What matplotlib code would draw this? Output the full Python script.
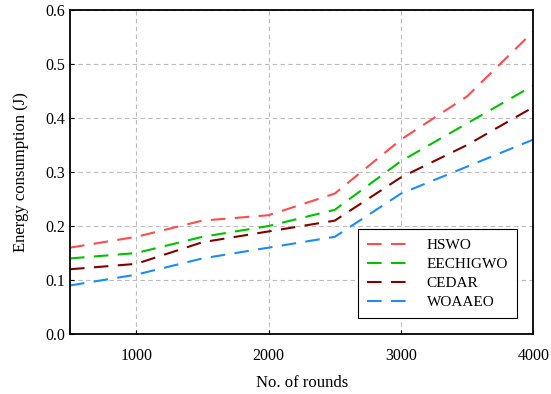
import numpy as np
import matplotlib
matplotlib.use('Agg')
import matplotlib.pyplot as plt

plt.rcParams['font.family'] = ['Liberation Serif', 'DejaVu Serif']

# Datos
rounds = [500, 1000, 1500, 2000, 2500, 3000, 3500, 4000]
hswo = [0.16, 0.18, 0.21, 0.22, 0.26, 0.36, 0.44, 0.56]
eechigwo = [0.14, 0.15, 0.18, 0.20, 0.23, 0.32, 0.39, 0.46]
cedar = [0.12, 0.13, 0.17, 0.19, 0.21, 0.29, 0.35, 0.42]
woaaeo = [0.09, 0.11, 0.14, 0.16, 0.18, 0.26, 0.31, 0.36]

labels = ['HSWO', 'EECHIGWO', 'CEDAR', 'WOAAEO']
colors = ['#ff4d4d', '#00c000', '#800000', '#1a8cff']

fig = plt.figure(figsize=(5.51, 3.94), dpi=100)
ax = fig.add_axes([0.127, 0.152, 0.841, 0.823])

for serie, lab, col in zip([hswo, eechigwo, cedar, woaaeo], labels, colors):
    ax.plot(rounds, serie, color=col, linestyle=(0, (7, 4.5)), linewidth=1.5, label=lab)

ax.set_xlim(500, 4000)
ax.set_ylim(0, 0.6)
ax.set_xticks([1000, 2000, 3000, 4000])
ax.set_yticks(np.arange(0, 0.61, 0.1))
ax.set_yticklabels(['%.1f' % v for v in np.arange(0, 0.61, 0.1)])
ax.grid(True, color='#bbbbbb', linestyle=(0, (4, 3)), linewidth=0.8)
ax.tick_params(direction='in', length=3, labelsize=11.5)
ax.tick_params(axis='x', pad=10)
for s in ax.spines.values():
    s.set_linewidth(1.3)

ax.set_xlabel('No. of rounds', fontsize=12, labelpad=8)
ax.set_ylabel('Energy consumption (J)', fontsize=12, labelpad=12)

leg = ax.legend(loc='lower right', bbox_to_anchor=(0.975, 0.035), fontsize=11,
                fancybox=False, edgecolor='black', framealpha=1,
                handlelength=2.6, borderpad=0.6, labelspacing=0.35, handletextpad=1.3,
                borderaxespad=0.3)
leg.get_frame().set_linewidth(0.8)

fig.savefig('out.png', dpi=100)
